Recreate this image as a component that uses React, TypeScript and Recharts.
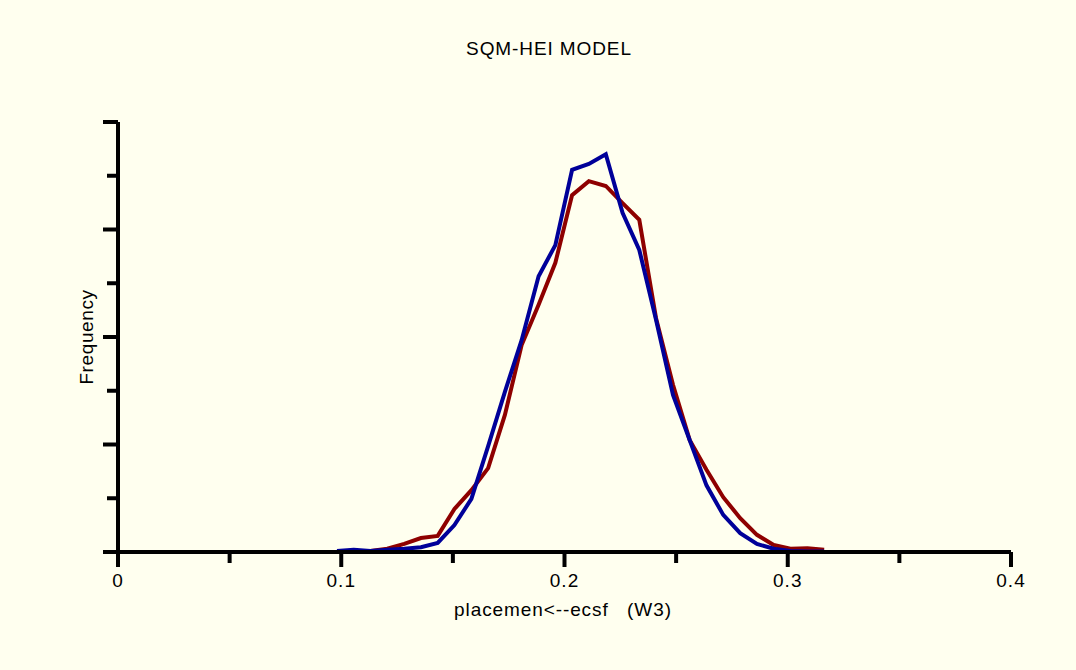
import { LineChart, Line, XAxis, YAxis } from "recharts";

// bin centres (W3 estimate)
const bins = [
  0.0981, 0.1056, 0.1131, 0.1206, 0.1282, 0.1357, 0.1432, 0.1507, 0.1583, 0.1658,
  0.1733, 0.1808, 0.1884, 0.1959, 0.2034, 0.2109, 0.2185, 0.226, 0.2335, 0.241,
  0.2486, 0.2561, 0.2636, 0.2711, 0.2787, 0.2862, 0.2937, 0.3012, 0.3088, 0.3163,
];

const redFreq = [
  0, 0, 2, 6, 15, 26, 30, 80, 115, 156, 255, 385, 460, 538, 664, 690, 681, 649, 618,
  435, 311, 208, 153, 102, 63, 32, 13, 6, 7, 4,
];

const blueFreq = [
  2, 4, 2, 4, 6, 9, 17, 50, 99, 197, 298, 394, 513, 571, 711, 722, 740, 631, 562,
  432, 292, 208, 124, 69, 35, 15, 6, 2, 1, 1,
];

const xTicks = [0, 0.05, 0.1, 0.15, 0.2, 0.25, 0.3, 0.35, 0.4];
const yTicks = [0, 100, 200, 300, 400, 500, 600, 700, 800];

const data = bins.map((x, i) => ({ x, red: redFreq[i], blue: blueFreq[i] }));

const FONT = '"Liberation Sans", Arial, Helvetica, sans-serif';
const BG = "#ffffef";

document.body.style.margin = "0";
document.body.style.background = BG;

function XTick(props: any) {
  const { x, y, payload } = props;
  const v = payload.value as number;
  const major = Math.round(v * 100) % 10 === 0;
  return (
    <g>
      <line x1={x} x2={x} y1={y} y2={y + (major ? 15 : 11)} stroke="#000" strokeWidth={4} />
      {major && (
        <text
          x={x}
          y={y + 35}
          textAnchor="middle"
          fontFamily={FONT}
          fontSize={19}
          letterSpacing={1}
          fill="#000"
        >
          {v === 0 ? "0" : v.toFixed(1)}
        </text>
      )}
    </g>
  );
}

function YTick(props: any) {
  const { x, y, payload } = props;
  const major = (payload.value as number) % 200 === 0;
  return <line x1={x - (major ? 15 : 11)} x2={x} y1={y} y2={y} stroke="#000" strokeWidth={4} />;
}

export default function App() {
  return (
    <div style={{ position: "relative", width: 1076, height: 670, background: BG, fontFamily: FONT }}>
      <div
        style={{
          position: "absolute",
          left: 549,
          top: 49,
          transform: "translate(-50%, -50%)",
          fontSize: 19,
          letterSpacing: 0.9,
          whiteSpace: "nowrap",
          color: "#000",
        }}
      >
        SQM-HEI MODEL
      </div>
      <div
        style={{
          position: "absolute",
          left: 87,
          top: 337,
          transform: "translate(-50%, -50%) rotate(-90deg)",
          fontSize: 19,
          letterSpacing: 0.6,
          whiteSpace: "nowrap",
          color: "#000",
        }}
      >
        Frequency
      </div>
      <div
        style={{
          position: "absolute",
          left: 563,
          top: 610,
          transform: "translate(-50%, -50%)",
          fontSize: 19,
          letterSpacing: 0.9,
          whiteSpace: "pre",
          color: "#000",
        }}
      >
        {"placemen<--ecsf   (W3)"}
      </div>
      <LineChart
        width={1076}
        height={670}
        data={data}
        margin={{ top: 122, right: 65, bottom: 88, left: 98 }}
        style={{ position: "absolute", left: 0, top: 0 }}
      >
        <XAxis
          dataKey="x"
          type="number"
          domain={[0, 0.4]}
          ticks={xTicks}
          interval={0}
          tickSize={0}
          tickMargin={0}
          tickLine={false}
          axisLine={{ stroke: "#000", strokeWidth: 4 }}
          tick={<XTick />}
          height={30}
        />
        <YAxis
          type="number"
          domain={[0, 800]}
          ticks={yTicks}
          interval={0}
          tickSize={0}
          tickMargin={0}
          tickLine={false}
          axisLine={{ stroke: "#000", strokeWidth: 4 }}
          tick={<YTick />}
          width={20}
        />
        <Line
          type="linear"
          dataKey="red"
          stroke="#8e0000"
          strokeWidth={4}
          dot={false}
          isAnimationActive={false}
        />
        <Line
          type="linear"
          dataKey="blue"
          stroke="#000099"
          strokeWidth={4}
          dot={false}
          isAnimationActive={false}
        />
      </LineChart>
    </div>
  );
}
